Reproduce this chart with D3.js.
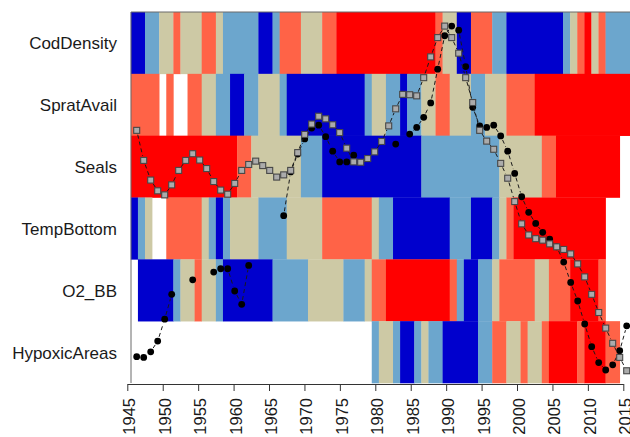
<!DOCTYPE html>
<html>
<head>
<meta charset="utf-8">
<script src="https://cdn.jsdelivr.net/npm/d3@7"></script>
<style>
  body { margin: 0; background: #fff; }
  svg { display: block; }
  text { font-family: "Liberation Sans", Arial, sans-serif; fill: #1a1a1a; }
</style>
</head>
<body>
<svg id="chart" width="630" height="437"></svg>
<script>
// ---- data ---------------------------------------------------------------
const N = null;                       // missing year
const firstYear = 1946, lastYear = 2016;
const rowNames = ["CodDensity", "SpratAvail", "Seals", "TempBottom", "O2_BB", "HypoxicAreas"];
const tickYears = [1945, 1950, 1955, 1960, 1965, 1970, 1975, 1980, 1985, 1990, 1995, 2000, 2005, 2010, 2015];

// Class per year (1 = lowest … 5 = highest), 1946–2016
const codDensity = [1,1,2,2,3,3,4,3,3,3,4,4,3,2,2,2,2,2,1,1,2,4,4,4,3,3,3,4,4,
  5,5,5,5,5,5,5,5,5,5,5,5,5,5,
  4,3,3,1,1,4,4,4,2,2,1,1,1,1,1,1,1,1,2,3,4,5,3,4,2,2,2,2];
const spratAvail = [4,4,4,4,N,4,N,N,4,4,3,3,2,2,1,1,2,2,3,3,3,2,
  1,1,1,1,1,1,1,1,1,1,1,
  2,3,3,2,2,1,2,2,3,3,4,4,3,3,3,2,2,3,3,3,4,4,4,4,
  5,5,5,5,5,5,5,5,5,5,5,5,5,5];
const seals = [5,5,5,5,5,5,5,5,5,5,5,5,5,5,5,4,4,3,3,3,3,3,3,3,2,2,2,
  1,1,1,1,1,1,1,1,1,1,1,1,1,1,
  2,2,2,2,2,2,2,2,2,2,2,3,3,3,3,3,3,4,4,
  5,5,5,5,5,5,5,5,5,N,N];
const tempBottom = [1,2,3,N,N,4,4,4,4,4,3,2,1,2,3,3,3,3,2,2,2,2,3,3,3,3,3,4,4,4,4,4,4,4,
  3,2,2,1,1,1,1,1,1,1,1,2,2,2,1,1,1,2,3,4,
  5,5,5,5,5,5,5,5,5,5,5,5,5,N,N,N,N];
const o2BB = [N,1,1,1,1,1,2,3,3,4,3,3,2,1,1,1,1,1,1,1,2,2,2,2,2,3,3,3,3,3,2,2,2,3,4,4,
  5,5,5,5,5,5,5,5,5,4,2,1,1,2,2,3,4,4,4,4,4,3,3,4,4,4,5,5,5,5,4,N,N,N,N];
const hypoxicAreas = [N,N,N,N,N,N,N,N,N,N,N,N,N,N,N,N,N,N,N,N,N,N,N,N,N,N,N,N,N,N,N,N,N,N,
  2,3,3,2,1,1,2,3,2,2,1,1,1,1,1,2,2,4,4,3,3,4,3,3,4,5,5,5,5,4,5,5,5,4,4,N,N];

// Two overlaid index series (0–100 scale), 1946–2016
const seriesDots = [7.1,6.9,8.4,11.3,17.2,23.9,N,N,27.8,N,N,29.9,30.8,30.8,24.8,21.2,31.7,N,N,N,N,
  45.1,56.9,61.7,65.8,68.7,69.5,66.4,62.5,59.6,59.6,61.4,N,N,N,N,N,64.4,N,
  67.1,68.9,71.6,75.5,84.6,93.6,96.2,95.1,85.3,74.3,69.3,68.9,69.5,66.6,62.5,56.5,
  50.2,46.0,43.0,40.6,38.8,36.7,32.6,27.1,22.1,15.9,9.8,5.5,3.5,4.9,8.7,15.4];
const seriesSquares = [68.1,60.0,54.7,51.8,50.7,53.4,57.3,60.0,61.8,60.1,
  57.8,54.3,52.0,50.9,53.8,57.3,58.9,59.8,58.6,57.3,
  55.5,56.1,57.3,62.1,67.0,69.8,71.9,71.2,69.6,67.5,
  63.3,59.6,59.5,60.5,62.3,65.1,69.3,73.9,77.8,77.7,
  77.4,82.3,87.9,93.1,96.2,93.1,88.9,82.3,75.6,68.1,
  65.2,63.0,59.2,55.2,48.9,42.9,39.9,38.9,38.5,37.5,
  36.7,36.0,34.8,32.1,28.6,23.9,19.0,14.8,10.7,6.9,
  3.3];

const rowValues = [codDensity, spratAvail, seals, tempBottom, o2BB, hypoxicAreas];
const classColors = ["#0000CD", "#6CA6CD", "#CDC9A5", "#FF6347", "#FF0000"];

// ---- layout ---------------------------------------------------------------
const svg = d3.select("#chart");
const plotLeft = 131, plotTop = 12, plotBottom = 383;

const x = d3.scaleLinear().domain([1945, 2015]).range([127.3, 623.3]);
const y = d3.scaleBand().domain(rowNames).range([plotTop, plotBottom]);
const color = d3.scaleOrdinal().domain([1, 2, 3, 4, 5]).range(classColors);

// overlay series use their own x/y frame
const xo = d3.scaleLinear().domain([firstYear, lastYear]).range([136.7, 626.7]);
const yo = d3.scaleLinear().domain([0, 100]).range([383, 12]);

const years = d3.range(firstYear, lastYear + 1);

// ---- heat map: consecutive years of the same class form one block ----------
const runs = [];
rowValues.forEach((vals, r) => {
  let start = 0;
  for (let i = 1; i <= vals.length; i++) {
    if (i === vals.length || vals[i] !== vals[start]) {
      if (vals[start] !== null) {
        runs.push({ row: rowNames[r], from: years[start], to: years[i - 1], v: vals[start] });
      }
      start = i;
    }
  }
});

svg.append("g")
  .selectAll("rect")
  .data(runs)
  .join("rect")
  .attr("x", d => x(d.from - 0.5))
  .attr("y", d => y(d.row))
  .attr("width", d => x(d.to + 0.5) - x(d.from - 0.5) + 0.3)
  .attr("height", y.bandwidth() + 0.3)
  .attr("fill", d => color(d.v));

// ---- plot frame -----------------------------------------------------------
svg.append("path")
  .attr("d", `M${plotLeft},${plotBottom}V${plotTop}H${640}`)
  .attr("fill", "none")
  .attr("stroke", "#6a6a6a")
  .attr("stroke-width", 1);

// ---- overlay series (points joined by broken dashed segments) -----------
function segmentsOf(vals) {
  const gap = 4.5;
  const segs = [];
  for (let i = 0; i < vals.length - 1; i++) {
    if (vals[i] === null || vals[i + 1] === null) continue;
    const x1 = xo(years[i]), y1 = yo(vals[i]);
    const x2 = xo(years[i + 1]), y2 = yo(vals[i + 1]);
    const len = Math.hypot(x2 - x1, y2 - y1);
    if (len <= 2 * gap) continue;
    const ux = (x2 - x1) / len, uy = (y2 - y1) / len;
    segs.push([[x1 + ux * gap, y1 + uy * gap], [x2 - ux * gap, y2 - uy * gap]]);
  }
  return segs;
}
const line = d3.line();

function drawSeries(vals, cls) {
  const g = svg.append("g").attr("class", cls);
  g.selectAll("path")
    .data(segmentsOf(vals))
    .join("path")
    .attr("d", line)
    .attr("fill", "none")
    .attr("stroke", "#1a1a1a")
    .attr("stroke-width", 1)
    .attr("stroke-dasharray", "4,3");
  return g;
}

const pts = vals => years.map((yr, i) => ({ yr, v: vals[i] })).filter(d => d.v !== null);

drawSeries(seriesDots, "dots")
  .selectAll("circle")
  .data(pts(seriesDots))
  .join("circle")
  .attr("cx", d => xo(d.yr))
  .attr("cy", d => yo(d.v))
  .attr("r", 3.4)
  .attr("fill", "#000");

const sq = 6;
drawSeries(seriesSquares, "squares")
  .selectAll("rect")
  .data(pts(seriesSquares))
  .join("rect")
  .attr("x", d => xo(d.yr) - sq / 2)
  .attr("y", d => yo(d.v) - sq / 2)
  .attr("width", sq)
  .attr("height", sq)
  .attr("fill", "#ababab")
  .attr("stroke", "#474747")
  .attr("stroke-width", 1.1);

// ---- row labels -----------------------------------------------------------
svg.append("g")
  .selectAll("text")
  .data(rowNames)
  .join("text")
  .attr("x", 117)
  .attr("y", d => y(d) + y.bandwidth() / 2 + 2)
  .attr("text-anchor", "end")
  .attr("dominant-baseline", "middle")
  .style("font-size", "17px")
  .text(d => d);

// ---- year axis ------------------------------------------------------------
const axis = d3.axisBottom(x)
  .tickValues(tickYears)
  .tickFormat(d3.format("d"))
  .tickSize(7)
  .tickSizeOuter(0);

const ax = svg.append("g")
  .attr("transform", `translate(0,${plotBottom + 1})`)
  .call(axis);
ax.select(".domain").attr("stroke", "#333");
ax.selectAll(".tick line").attr("stroke", "#333");
ax.selectAll(".tick text")
  .attr("transform", "rotate(-90)")
  .attr("x", -14)
  .attr("y", 0)
  .attr("dy", "0.45em")
  .attr("text-anchor", "end")
  .style("font-size", "16.5px")
  .style("font-family", "'Liberation Sans', Arial, sans-serif")
  .attr("fill", "#1a1a1a");
</script>
</body>
</html>
